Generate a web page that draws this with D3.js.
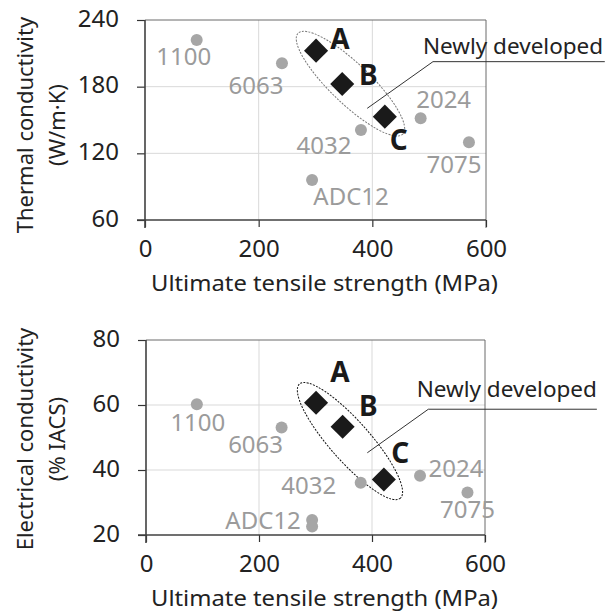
<!DOCTYPE html>
<html>
<head>
<meta charset="utf-8">
<script src="https://cdn.jsdelivr.net/npm/d3@7"></script>
<style>
  html, body { margin: 0; padding: 0; background: #fff; }
  svg { display: block; font-family: "Noto Sans", "Open Sans", sans-serif; }
</style>
</head>
<body>
<svg id="chart" width="611" height="612"></svg>
<script>
// ---------------- DATA ----------------
const alloyNames = ["1100", "6063", "ADC12", "4032", "2024", "7075"];
const alloyUTS = [91, 241, 294, 380, 485, 570];
const alloyThermal = [222, 201, 96, 141, 151.5, 130];

const elecNames = ["1100", "6063", "ADC12", "ADC12", "4032", "2024", "7075"];
const elecUTS = [90, 240, 294, 294, 380, 485, 569];
const elecValues = [60.2, 53.1, 24.6, 22.6, 36.1, 38.2, 33.1];

const devNames = ["A", "B", "C"];
const devUTS = [301, 347, 422];
const devThermal = [212.4, 182.4, 153];
const devUTSElec = [301, 348, 421];
const devElec = [60.7, 53.3, 37.1];

const xTicks = [0, 200, 400, 600];
const thermalTicks = [60, 120, 180, 240];
const elecTicks = [20, 40, 60, 80];

const annotationText = "Newly developed";

// ---------------- STYLE / LAYOUT ----------------
const svg = d3.select("#chart");
const FONT = "'Noto Sans', 'Open Sans', sans-serif";
const grayText = "#9b9b9b";
const dotFill = "#a6a6a6";
const darkText = "#222";

// label offsets (px) relative to each point
const alloyLabelOffTop = [[-13, 25], [-26, 31], [39, 25], [-37, 24], [23, -10], [-15, 31]];
const alloyLabelOffBot = [[1, 27], [-26, 25.4], [-49, 9], null, [-52, 11.6], [36, 0.7], [0, 25.4]];
const devLabelOffTop = [[24, -1.4], [26, 0.5], [14, 33]];
const devLabelOffBot = [[24, -21], [25.6, -10.7], [16.5, -16]];

function panel(cfg) {
  const x = d3.scaleLinear().domain([0, 600]).range([cfg.left, cfg.right]);
  const y = d3.scaleLinear().domain(cfg.yDomain).range([cfg.bottom, cfg.top]);
  const g = svg.append("g");

  // vertical gridlines
  g.selectAll(".vg").data(xTicks.slice(1, -1)).enter().append("line")
    .attr("x1", d => x(d)).attr("x2", d => x(d))
    .attr("y1", cfg.top).attr("y2", cfg.bottom)
    .attr("stroke", "#d9d9d9").attr("stroke-width", 1);
  // horizontal gridlines
  g.selectAll(".hg").data(cfg.yTicks.slice(1, -1)).enter().append("line")
    .attr("x1", cfg.left).attr("x2", cfg.right)
    .attr("y1", d => y(d)).attr("y2", d => y(d))
    .attr("stroke", "#d9d9d9").attr("stroke-width", 1);
  // top and right border
  g.append("line").attr("x1", cfg.left).attr("x2", cfg.right)
    .attr("y1", cfg.top).attr("y2", cfg.top).attr("stroke", "#6a6a6a").attr("stroke-width", 1);
  g.append("line").attr("x1", cfg.right).attr("x2", cfg.right)
    .attr("y1", cfg.top).attr("y2", cfg.bottom + 8).attr("stroke", "#6a6a6a").attr("stroke-width", 1);

  // axes
  const xAxis = d3.axisBottom(x).tickValues(xTicks).tickSize(7).tickPadding(13).tickFormat(d3.format("d"));
  const yAxis = d3.axisLeft(y).tickValues(cfg.yTicks).tickSize(8).tickPadding(18).tickFormat(d3.format("d"));
  const gx = g.append("g").attr("transform", `translate(0,${cfg.bottom})`).call(xAxis);
  const gy = g.append("g").attr("transform", `translate(${cfg.left},0)`).call(yAxis);
  [gx, gy].forEach(a => {
    a.select(".domain").remove();
    a.selectAll(".tick line").attr("stroke", "#333").attr("stroke-width", 1.2);
    a.selectAll("text").attr("fill", darkText).style("font-family", FONT).style("font-size", "24px");
  });
  gx.selectAll("text").attr("dy", "0.71em");
  gy.selectAll("text").attr("dy", "0.25em");
  // axis lines
  g.append("line").attr("x1", cfg.left - 8).attr("x2", cfg.right)
    .attr("y1", cfg.bottom).attr("y2", cfg.bottom).attr("stroke", "#404040").attr("stroke-width", 1.6);
  g.append("line").attr("x1", cfg.left).attr("x2", cfg.left)
    .attr("y1", cfg.top).attr("y2", cfg.bottom + 8).attr("stroke", "#404040").attr("stroke-width", 1.6);

  // axis titles
  g.append("text").attr("x", 324.5).attr("y", cfg.bottom + 71)
    .attr("text-anchor", "middle").attr("fill", darkText)
    .attr("textLength", 347).attr("lengthAdjust", "spacingAndGlyphs")
    .style("font-size", "22.5px").text("Ultimate tensile strength (MPa)");
  const yc = (cfg.top + cfg.bottom) / 2 + cfg.titleShift;
  cfg.yTitle.forEach((t, i) => {
    g.append("text")
      .attr("transform", `translate(${33 + i * 31.5},${yc}) rotate(-90)`)
      .attr("text-anchor", "middle").attr("fill", darkText)
      .style("font-size", "22px").text(t);
  });

  // ellipse around developed alloys
  const pA = [x(cfg.devX[0]), y(cfg.devY[0])];
  const pC = [x(cfg.devX[2]), y(cfg.devY[2])];
  const cx = (pA[0] + pC[0]) / 2, cy = (pA[1] + pC[1]) / 2;
  const ang = Math.atan2(pC[1] - pA[1], pC[0] - pA[0]) * 180 / Math.PI;
  const half = Math.hypot(pC[0] - pA[0], pC[1] - pA[1]) / 2;
  g.append("ellipse").attr("cx", 0).attr("cy", 0).attr("rx", half + 25).attr("ry", 20)
    .attr("transform", `translate(${cx},${cy}) rotate(${ang})`)
    .attr("fill", "none").attr("stroke", cfg.ellipseStroke).attr("stroke-width", 1)
    .attr("stroke-dasharray", "2,1.3");

  // annotation leader
  const a = cfg.annot;
  g.append("polyline")
    .attr("points", [[x(a.end[0]), y(a.end[1])], [x(a.elbow[0]), y(a.elbow[1])], [x(a.right), y(a.elbow[1])]]
      .map(p => p.join(",")).join(" "))
    .attr("fill", "none").attr("stroke", "#333").attr("stroke-width", 1);
  g.append("text").attr("x", x(a.elbow[0]) + a.textOff[0]).attr("y", y(a.elbow[1]) + a.textOff[1])
    .attr("fill", darkText).style("font-size", "22.5px").text(annotationText);

  // alloy points
  cfg.ax.forEach((v, i) => {
    g.append("circle").attr("cx", x(v)).attr("cy", y(cfg.ay[i])).attr("r", 6).attr("fill", dotFill);
  });
  cfg.ax.forEach((v, i) => {
    const off = cfg.aOff[i];
    if (!off) return;
    g.append("text").attr("x", x(v) + off[0]).attr("y", y(cfg.ay[i]) + off[1])
      .attr("text-anchor", "middle").attr("fill", grayText)
      .style("font-size", "24px").text(cfg.aNames[i]);
  });

  // developed points
  const sq = d3.symbol().type(d3.symbolSquare).size(290);
  cfg.devX.forEach((v, i) => {
    g.append("path").attr("d", sq())
      .attr("transform", `translate(${x(v)},${y(cfg.devY[i])}) rotate(45)`)
      .attr("fill", "#1a1a1a");
    const off = cfg.dOff[i];
    g.append("text").attr("x", x(v) + off[0]).attr("y", y(cfg.devY[i]) + off[1])
      .attr("text-anchor", "middle").attr("fill", "#1a1a1a")
      .style("font-size", "28px").style("font-weight", "bold").text(devNames[i]);
  });
}

panel({
  left: 145, right: 486, top: 20, bottom: 220,
  yDomain: [60, 240], yTicks: thermalTicks, titleShift: 5,
  yTitle: ["Thermal conductivity", "(W/m·K)"],
  ax: alloyUTS, ay: alloyThermal, aNames: alloyNames, aOff: alloyLabelOffTop,
  devX: devUTS, devY: devThermal, dOff: devLabelOffTop,
  ellipseStroke: "#777",
  annot: { end: [391, 160.5], elbow: [506.7, 202.5], right: 809, textOff: [-10, -7.7] }
});

panel({
  left: 146, right: 485, top: 340, bottom: 535,
  yDomain: [20, 80], yTicks: elecTicks, titleShift: 1.5,
  yTitle: ["Electrical conductivity", "(% IACS)"],
  ax: elecUTS, ay: elecValues, aNames: elecNames, aOff: alloyLabelOffBot,
  devX: devUTSElec, devY: devElec, dOff: devLabelOffBot,
  ellipseStroke: "#111",
  annot: { end: [391.7, 45.3], elbow: [499.7, 58.7], right: 798, textOff: [-11.6, -12.6] }
});
</script>
</body>
</html>
